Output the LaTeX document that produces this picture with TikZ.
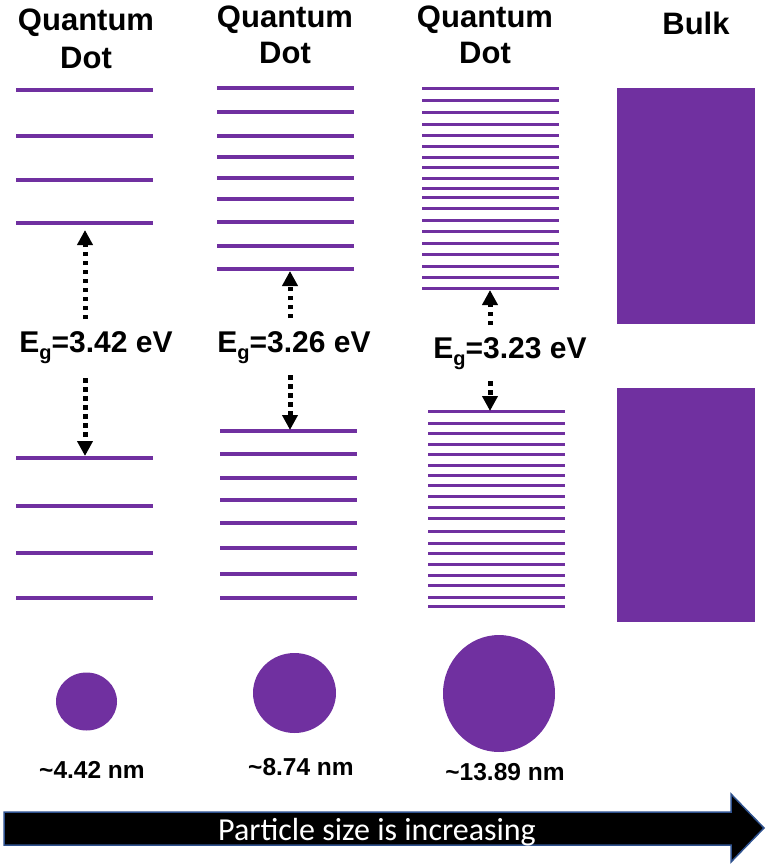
\documentclass[tikz,border=0pt]{standalone}
\usepackage{fontspec}
\setmainfont{Liberation Sans}
\newfontfamily\calib{Carlito}
\usetikzlibrary{arrows.meta}
\definecolor{qpurple}{HTML}{7030A0}
\definecolor{arrowedge}{RGB}{47,82,143}
\tikzset{
  lvl/.style={draw=qpurple, line width=4pt},
  lvlthin/.style={draw=qpurple, line width=3pt},
  title/.style={font=\fontsize{31}{31}\selectfont\bfseries, anchor=base, inner sep=0pt},
  eglabel/.style={font=\fontsize{30}{30}\selectfont\bfseries, inner sep=0pt},
  sizelabel/.style={font=\fontsize{24.5}{24.5}\selectfont\bfseries, inner sep=0pt},
  gaparrow/.style={line width=5pt, dash pattern=on 4.5pt off 4.5pt, -{Triangle[width=15pt,length=15pt]}},
  dot/.style={fill=qpurple, draw=none},
}
\newcommand{\Eg}[1]{E\raisebox{-7pt}{\fontsize{20}{20}\selectfont g}=#1 eV}
\begin{document}
\begin{tikzpicture}[x=1pt,y=-1pt]
\useasboundingbox (0,0) rectangle (769,868);

% titles
\node[title] (t1a) at (86,30) {Quantum};
\node[title] (t1b) at (86,68) {Dot};
\node[title] (t2a) at (285,27) {Quantum};
\node[title] (t2b) at (285,63) {Dot};
\node[title] (t3a) at (485,27) {Quantum};
\node[title] (t3b) at (485,63) {Dot};
\node[title] (t4) at (696,34) {Bulk};

% column 1 levels
\foreach \y in {90,136,180,223,458,506,553,598}
  \draw[lvl] (16,\y) -- (153,\y);
% column 2 levels
\foreach \y in {88,112,136,157,178,199,222,246,269}
  \draw[lvl] (217,\y) -- (354,\y);
\foreach \y in {431,454,478,500,523,548,574,598}
  \draw[lvl] (220,\y) -- (357,\y);
% column 3 levels
\foreach \y in {88.3,100.7,112.3,124.3,135.7,146.3,157,167.3,178.3,188,197.7,208.7,220,231.7,243,254.7,266,277.3,288.7}
  \draw[lvlthin] (422,\y) -- (559,\y);
\foreach \y in {411.7,423,433.3,444,454.7,465.3,475.3,485.3,496,507,518.7,531,543,553.7,564.3,575.3,585.7,597,606.7}
  \draw[lvlthin] (428,\y) -- (565,\y);

% bulk bands
\fill[qpurple] (617,88) rectangle (755,324);
\fill[qpurple] (617,388) rectangle (755,622);

% gap labels
\node[eglabel] (eg1) at (96,348) {\Eg{3.42}};
\node[eglabel] (eg2) at (294,348) {\Eg{3.26}};
\node[eglabel] (eg3) at (510,354) {\Eg{3.23}};

% gap arrows
\coordinate (a1s) at (85,319); \coordinate (a1e) at (85,230);
\coordinate (b1s) at (85,378); \coordinate (b1e) at (85,456);
\coordinate (a2s) at (290,318); \coordinate (a2e) at (290,271);
\coordinate (b2s) at (290,375); \coordinate (b2e) at (290,430);
\coordinate (a3s) at (490,325); \coordinate (a3e) at (490,290);
\coordinate (b3s) at (490,381); \coordinate (b3e) at (490,411);
\draw[gaparrow] (a1s) -- (a1e);
\draw[gaparrow] (b1s) -- (b1e);
\draw[gaparrow] (a2s) -- (a2e);
\draw[gaparrow] (b2s) -- (b2e);
\draw[gaparrow] (a3s) -- (a3e);
\draw[gaparrow] (b3s) -- (b3e);

% particles
\path[dot] (86.5,701.5) ellipse [x radius=30.5, y radius=29] node (p1) {};
\path[dot] (294.5,693) ellipse [x radius=41.5, y radius=40] node (p2) {};
\path[dot] (499,693.5) ellipse [x radius=56, y radius=58.5] node (p3) {};

\node[sizelabel] (s1) at (92,770) {\textasciitilde 4.42 nm};
\node[sizelabel] (s2) at (301,767) {\textasciitilde 8.74 nm};
\node[sizelabel] (s3) at (505,772) {\textasciitilde 13.89 nm};

% bottom arrow
\draw[fill=black, draw=arrowedge, line width=1.5pt]
  (4,812) -- (731,812) -- (731,794) -- (764,828) -- (731,862) -- (731,845) -- (4,845) -- cycle;
\node[text=white, font=\calib\fontsize{32}{32}\selectfont, anchor=base, inner sep=0pt] (lab) at (377,840) {Particle size is increasing};
\end{tikzpicture}
\end{document}
